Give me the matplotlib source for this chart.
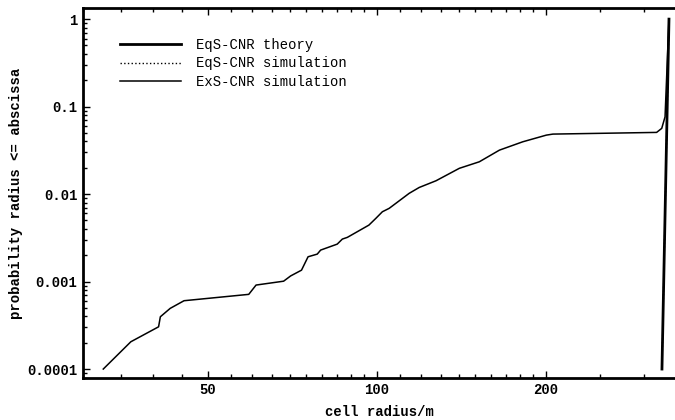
import matplotlib
matplotlib.use("Agg")
import matplotlib.pyplot as plt
from matplotlib.ticker import FixedLocator, NullFormatter, LogLocator

# ExS-CNR simulation
exs_radius = [32.6, 36.5, 40.9, 41.2, 42.9, 45.4, 59.2, 61.0, 68.3, 70.3,
              73.5, 75.5, 78.4, 79.5, 85.1, 86.9, 88.7, 96.9, 99.7, 102.4,
              105.3, 114.3, 119.1, 127.6, 140.4, 152.4, 165.5, 182.1, 200.6, 206.1,
              315.3, 322.0, 326.4, 331.7]
exs_prob = [1.0e-4, 2.05e-4, 3.04e-4, 3.96e-4, 4.94e-4, 6.04e-4, 7.14e-4, 9.12e-4, 1.01e-3, 1.16e-3,
            1.35e-3, 1.92e-3, 2.06e-3, 2.29e-3, 2.68e-3, 3.06e-3, 3.20e-3, 4.42e-3, 5.28e-3, 6.28e-3,
            6.87e-3, 0.0102, 0.0119, 0.0142, 0.0197, 0.0234, 0.0318, 0.0396, 0.0472, 0.0485,
            0.0507, 0.0564, 0.0764, 1.0]

# EqS-CNR theory / simulation: near-vertical step
eqs_theory_radius = [322.3, 331.7]
eqs_theory_prob = [1.0e-4, 1.0]
eqs_sim_radius = [322.3, 331.7]
eqs_sim_prob = [1.0e-4, 1.0]

x_ticks = [50, 100, 200]
y_ticks = [1e-4, 1e-3, 1e-2, 1e-1, 1]
y_labels = ["0.0001", "0.001", "0.01", "0.1", "1"]

mono = "Liberation Mono"

fig = plt.figure(figsize=(6.75, 4.2), dpi=100)
ax = fig.add_axes([83 / 675, 1 - 378 / 420, 592 / 675, 370 / 420])

ax.plot(eqs_theory_radius, eqs_theory_prob, color="black", linewidth=2.0, label="EqS-CNR theory")
ax.plot(eqs_sim_radius, eqs_sim_prob, color="black", linewidth=1.0, linestyle=":", label="EqS-CNR simulation")
ax.plot(exs_radius, exs_prob, color="black", linewidth=1.1, label="ExS-CNR simulation")

ax.set_xscale("log")
ax.set_yscale("log")
ax.set_xlim(30, 340)
ax.set_ylim(7.9e-5, 1.34)

ax.xaxis.set_major_locator(FixedLocator(x_ticks))
ax.set_xticklabels([str(t) for t in x_ticks])
minor_x = list(range(30, 100, 5)) + list(range(110, 200, 10)) + [250, 300]
ax.xaxis.set_minor_locator(FixedLocator(minor_x))
ax.xaxis.set_minor_formatter(NullFormatter())

ax.yaxis.set_major_locator(FixedLocator(y_ticks))
ax.set_yticklabels(y_labels)
ax.yaxis.set_minor_locator(LogLocator(base=10, subs=range(2, 10)))
ax.yaxis.set_minor_formatter(NullFormatter())

ax.tick_params(which="both", direction="in", top=True, right=False, width=1.0)
ax.tick_params(which="major", length=5)
ax.tick_params(which="minor", length=3)
ax.tick_params(axis="x", which="major", pad=3.5)
ax.tick_params(axis="y", which="major", pad=4)
for lab in ax.get_xticklabels() + ax.get_yticklabels():
    lab.set_fontfamily(mono)
    lab.set_fontweight("bold")
    lab.set_fontsize(10)

for side in ["left", "bottom", "top"]:
    ax.spines[side].set_linewidth(2.0)
ax.spines["right"].set_visible(False)

ax.set_xlabel("cell radius/m", fontfamily=mono, fontweight="bold", fontsize=10, labelpad=6)
ax.set_ylabel("probability radius <= abscissa", fontfamily=mono, fontweight="bold", fontsize=10, labelpad=3)

ax.legend(loc="upper left", bbox_to_anchor=(0.062, 0.92), frameon=False,
          prop={"family": mono, "size": 10}, handlelength=4.4, handletextpad=1.1,
          labelspacing=0.35, borderpad=0, borderaxespad=0)

fig.savefig("out.png", dpi=100)
